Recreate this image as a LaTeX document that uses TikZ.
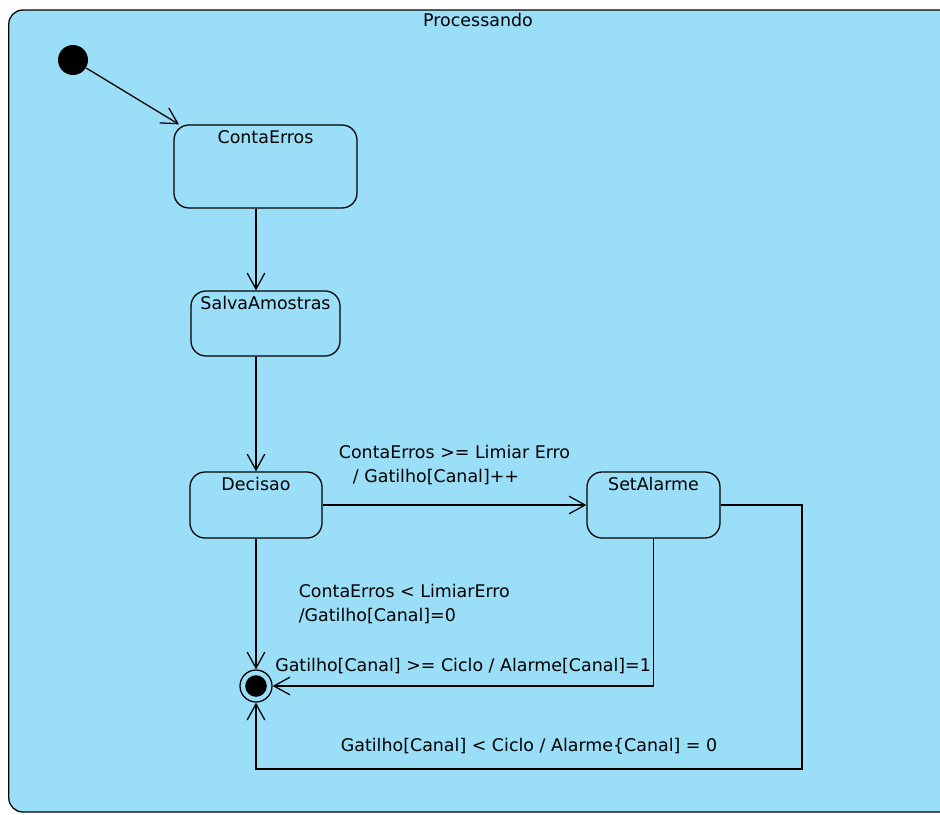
\documentclass[tikz,border=0pt]{standalone}
\usepackage{fontspec}
\setmainfont{DejaVu Sans}
\usepackage {tikz}
\usetikzlibrary {positioning}
\usetikzlibrary{arrows.meta}
\definecolor{azulfundo}{RGB}{155,222,247}
\tikzset{
    estado/.style = {rectangle, draw, rounded corners=0.375cm, inner sep=0pt},
    nome/.style = {anchor=north, inner sep=4pt},
    inicio/.style = {circle, fill=black, minimum size=0.75cm, inner sep=0pt},
    fim/.style = {circle, draw, minimum size=0.8cm, inner sep=0pt,
        path picture={\fill (path picture bounding box.center) circle (0.27cm);}},
    guarda/.style = {align=left, inner sep=0pt}}

\begin{document}
\begin{tikzpicture}[-{Straight Barb[length=4mm,width=4.4mm]}, auto, node distance = 1cm and 2cm, on grid,
    line width=0.9pt, font=\fontsize{12.4pt}{17pt}\selectfont]
    \useasboundingbox (0,0) rectangle (23.5,-20.35);
    \begin{scope}
    \clip (-1,1) rectangle (23.5,-21);
    \draw[-, fill=azulfundo, rounded corners=0.35cm] (0.22,-0.25) rectangle (25,-20.3);
    \end{scope}
    \node (titulo) at (11.95,-0.5) {Processando};
    \node[inicio] (Inicio) at (1.825,-1.5) {};
    \node[estado, minimum width=4.575cm, minimum height=2.075cm, label={[nome]north:ContaErros}]
        (ContaErros) [below right = 2.6625cm and 4.8125cm of Inicio] {};
    \node[estado, minimum width=3.725cm, minimum height=1.625cm, label={[nome]north:SalvaAmostras}]
        (SalvaAmostras) [below = 3.925cm of ContaErros] {};
    \node[estado, minimum width=3.3cm, minimum height=1.65cm, label={[nome]north:Decisao}]
        (Decisao) [below left = 4.5375cm and 0.2375cm of SalvaAmostras] {};
    \node[estado, minimum width=3.325cm, minimum height=1.65cm, label={[nome]north:SetAlarme}]
        (SetAlarme) [right = 9.9375cm of Decisao] {};
    \node[fim] (Final) [below = 4.525cm of Decisao] {};
    \coordinate (volta) at (20.05,-19.225);
    % transicoes
    \draw (Inicio) -- ([xshift=4pt]ContaErros.north west);
    \draw (ContaErros.south -| Decisao) -- (SalvaAmostras.north -| Decisao);
    \draw (SalvaAmostras.south -| Decisao) -- (Decisao);
    \draw (Decisao) -- node[guarda, above=14pt] {ContaErros >= Limiar Erro\\\hspace*{10pt}/ Gatilho[Canal]++} (SetAlarme);
    \draw (Decisao) -- node[guarda, right=30pt] {ContaErros < LimiarErro\\/Gatilho[Canal]=0} (Final);
    \draw (SetAlarme) |- node[guarda, pos=0.75, above=8pt] {Gatilho[Canal] >= Ciclo / Alarme[Canal]=1} (Final);
    \draw (SetAlarme.east) -| (volta) -| node[guarda, pos=0.25, above=10pt] {Gatilho[Canal] < Ciclo / Alarme\{Canal] = 0} (Final);
\end{tikzpicture}
\end{document}
